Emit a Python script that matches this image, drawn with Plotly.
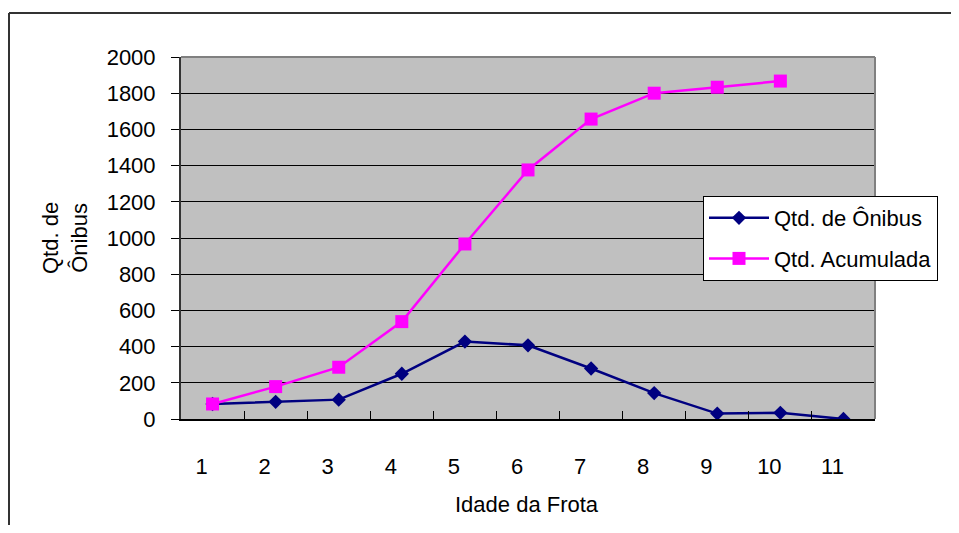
import plotly.graph_objects as go

categories = [1, 2, 3, 4, 5, 6, 7, 8, 9, 10, 11]
tick_labels = ["1", "2", "3", "4", "5", "6", "7", "8", "9", "10", "11"]
qtd_onibus = [83, 95, 107, 250, 428, 407, 279, 143, 30, 34, 0]
cat_acum = [1, 2, 3, 4, 5, 6, 7, 8, 9, 10]
qtd_acumulada = [83, 179, 286, 538, 967, 1376, 1657, 1800, 1833, 1867]
y_ticks = list(range(0, 2001, 200))

FONT = "Liberation Sans, Arial, sans-serif"
FS = 22

# page body has an 8px margin; figure sized to fit without scrollbars
W, H = 943, 517
L, T, PW, PH = 173, 49, 694, 362


def px(xp):
    return (xp - 8 - L) / PW


def py(yp):
    return (T + PH - (yp - 8)) / PH


fig = go.Figure()
fig.add_trace(go.Scatter(
    x=categories, y=qtd_onibus, name="Qtd. de Ônibus", mode="lines+markers",
    legendgroup="a",
    line=dict(color="#000080", width=2.5),
    marker=dict(symbol="diamond", size=11, color="#000080"),
))
fig.add_trace(go.Scatter(
    x=cat_acum, y=qtd_acumulada, name="Qtd. Acumulada", mode="lines+markers",
    legendgroup="b",
    line=dict(color="#FF00FF", width=2.5),
    marker=dict(symbol="square", size=13, color="#FF00FF"),
))

fig.update_layout(
    width=W, height=H,
    margin=dict(l=L, r=W - L - PW, t=T, b=H - T - PH, autoexpand=False),
    paper_bgcolor="white", plot_bgcolor="#C0C0C0",
    font=dict(family=FONT, size=FS, color="black"),
    showlegend=True,
    legend=dict(
        x=px(703), y=py(196), xanchor="left", yanchor="top",
        bgcolor="white", bordercolor="black", borderwidth=1,
        font=dict(family=FONT, size=FS), itemwidth=60, tracegroupgap=9,
    ),
    xaxis=dict(
        range=[0.5, 11.5], tickmode="array", tickvals=categories, ticktext=tick_labels,
        ticks="", showgrid=False, zeroline=False,
        showline=True, linecolor="black", linewidth=2,
        ticklabelshift=-11, ticklabelstandoff=27,
        minor=dict(tickmode="array", tickvals=[c + 0.5 for c in categories[:-1]],
                   ticks="inside", ticklen=8, tickcolor="black", tickwidth=1, showgrid=False),
    ),
    yaxis=dict(
        range=[0, 2000], tickmode="array", tickvals=y_ticks,
        ticks="outside", ticklen=8, tickcolor="black", tickwidth=1,
        showgrid=True, gridcolor="black", gridwidth=1, zeroline=False,
        showline=True, linecolor="#333333", linewidth=2,
        ticklabelstandoff=11,
    ),
    shapes=[
        dict(type="line", xref="paper", yref="paper", x0=0, x1=1, y0=1, y1=1,
             line=dict(color="#808080", width=2)),
        dict(type="line", xref="paper", yref="paper", x0=1, x1=1, y0=0, y1=1,
             line=dict(color="#808080", width=2)),
        dict(type="line", xref="paper", yref="paper",
             x0=px(9), x1=2, y0=py(13), y1=py(13),
             line=dict(color="#333333", width=2), layer="below"),
        dict(type="line", xref="paper", yref="paper",
             x0=px(9), x1=px(9), y0=py(13), y1=-1,
             line=dict(color="#333333", width=2), layer="below"),
    ],
    annotations=[
        dict(text="Qtd. de<br>Ônibus", xref="paper", yref="paper",
             x=px(65), y=py(238), textangle=-90,
             xanchor="center", yanchor="middle", showarrow=False,
             font=dict(family=FONT, size=FS)),
        dict(text="Idade da Frota", xref="paper", yref="paper",
             x=px(527), y=py(504),
             xanchor="center", yanchor="middle", showarrow=False,
             font=dict(family=FONT, size=FS)),
    ],
)

fig.write_html("out.html")
